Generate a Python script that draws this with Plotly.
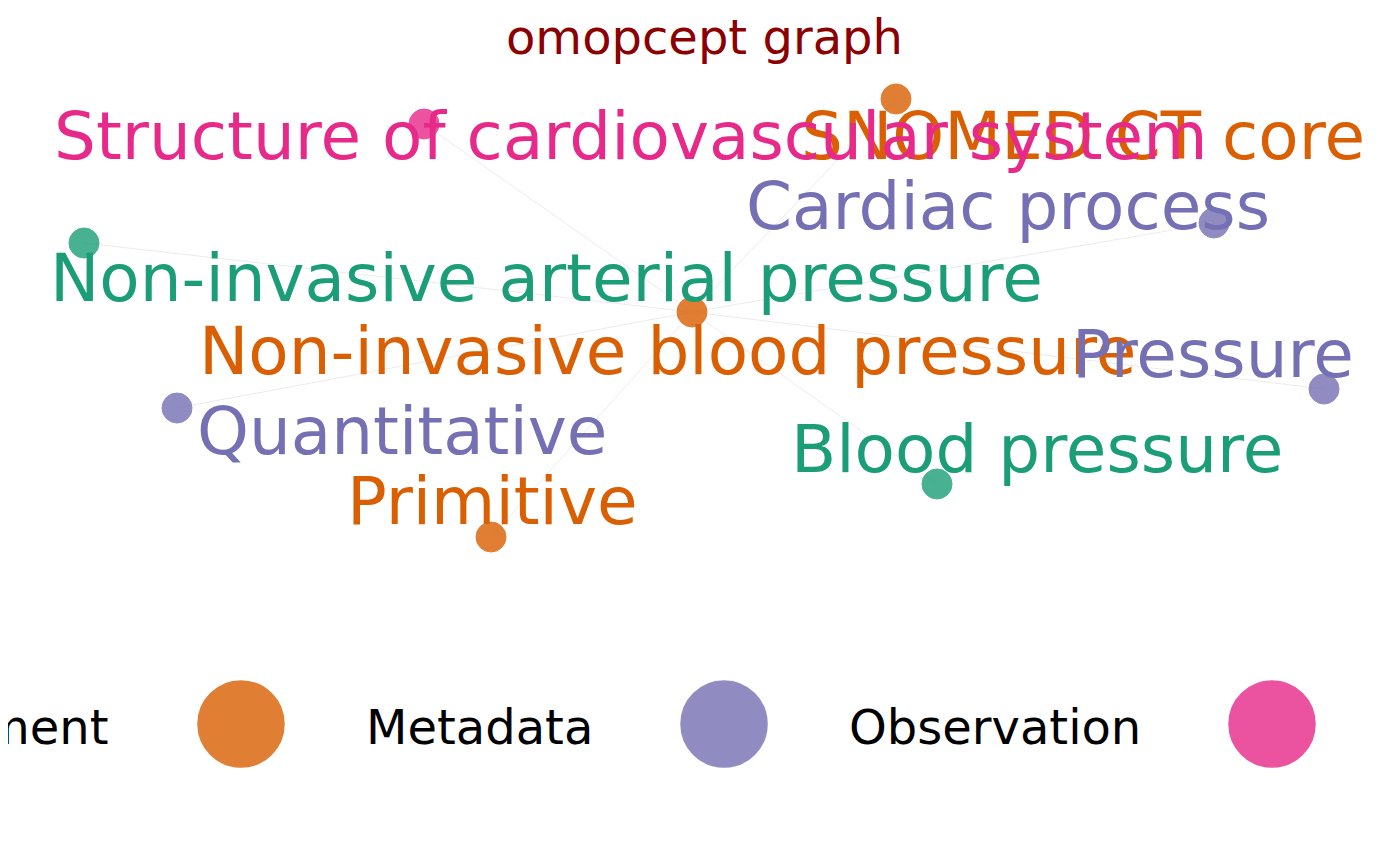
import plotly.graph_objects as go

names = ["Non-invasive blood pressure", "SNOMED CT core", "Structure of cardiovascular system",
         "Cardiac process", "Non-invasive arterial pressure", "Pressure", "Quantitative",
         "Blood pressure", "Primitive"]
domains = ["Meas Value", "Meas Value", "Observation", "Metadata", "Measurement", "Metadata",
           "Metadata", "Measurement", "Meas Value"]
node_x = [691, 895, 423, 1213, 83, 1323, 176, 936, 490]
node_y = [311, 98, 123, 222, 242, 388, 407, 483, 536]
label_x = [666, 1082, 629, 1007, 545, 1212, 401, 1036, 491]
label_y = [350, 135, 135, 205, 277, 353, 430, 448, 500]

legend_names = ["Measurement", "Meas Value", "Metadata", "Observation"]
legend_text_right = [110, 594, 1142]
legend_marker_x = [240, 723, 1271]

colors = {"Measurement": "#1b9e77", "Meas Value": "#d95f02", "Metadata": "#7570b3", "Observation": "#e7298a"}

fig = go.Figure()
ex, ey = [], []
for i in range(1, len(names)):
    ex += [node_x[0], node_x[i], None]
    ey += [node_y[0], node_y[i], None]
fig.add_trace(go.Scatter(x=ex, y=ey, mode="lines", line=dict(color="#e6e6e6", width=0.8),
                         hoverinfo="skip", showlegend=False))
fig.add_trace(go.Scatter(x=node_x, y=node_y, mode="markers",
                         marker=dict(size=30, color=[colors[d] for d in domains], opacity=0.8,
                                     line=dict(width=1, color=[colors[d] for d in domains])),
                         text=names, showlegend=False))
for n, d, lx, ly in zip(names, domains, label_x, label_y):
    fig.add_annotation(x=lx, y=ly, text=n, showarrow=False, xanchor="center", yanchor="middle",
                       font=dict(size=66, color=colors[d], family="DejaVu Sans"))

# legend row
fig.add_trace(go.Scatter(x=legend_marker_x, y=[723] * 3, mode="markers",
                         marker=dict(size=86, color=[colors[n] for n in legend_names[1:]], opacity=0.8,
                                     line=dict(width=1.5, color=[colors[n] for n in legend_names[1:]])),
                         showlegend=False, hoverinfo="skip"))
for n, r in zip([legend_names[0]] + legend_names[2:], legend_text_right):
    fig.add_annotation(x=r, y=726, text=n, showarrow=False, xanchor="right", yanchor="middle",
                       font=dict(size=48, color="black", family="DejaVu Sans"))

fig.add_annotation(x=703, y=36, text="omopcept graph", showarrow=False, xanchor="center", yanchor="middle",
                   font=dict(size=48, color="#8B0000", family="DejaVu Sans"))

fig.update_layout(width=1400, height=866, margin=dict(l=0, r=0, t=0, b=0),
                  plot_bgcolor="white", paper_bgcolor="white",
                  xaxis=dict(range=[7, 1407], visible=False, fixedrange=True),
                  yaxis=dict(range=[873, 7], visible=False, fixedrange=True))
fig.write_html("out.html")
